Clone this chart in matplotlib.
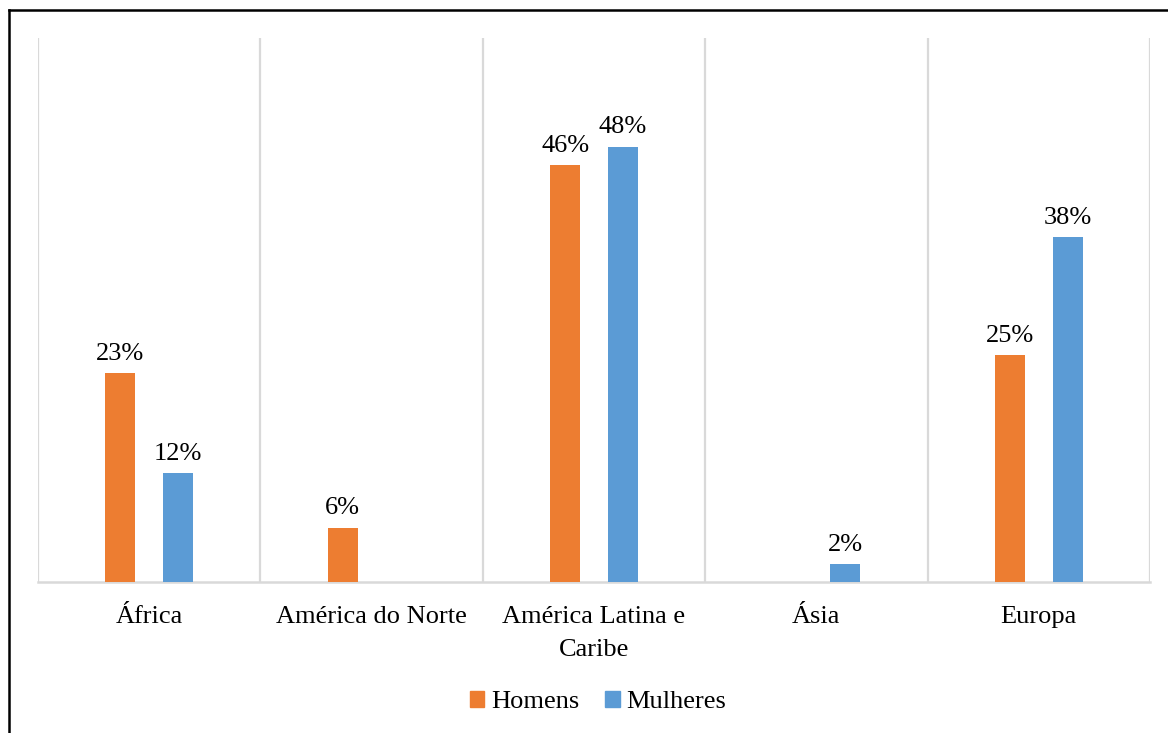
import numpy as np
import matplotlib.pyplot as plt
from matplotlib.patches import Patch
from matplotlib.lines import Line2D

plt.rcParams['font.family'] = ['Liberation Serif', 'DejaVu Serif']

regioes = ["África", "América do Norte", "América Latina e\nCaribe", "Ásia", "Europa"]
homens = [23, 6, 46, 0, 25]
mulheres = [12, 0, 48, 2, 38]

cor_homens = "#ED7D31"
cor_mulheres = "#5B9BD5"
cinza = "#d9d9d9"
fs = 19

fig = plt.figure(figsize=(11.68, 7.33), dpi=100)
ax = fig.add_axes([38 / 1168, 1 - 582 / 733, (1150 - 38) / 1168, (582 - 38) / 733])

x = np.arange(len(regioes))
largura = 0.135
desloc = 0.13

def rotular(barras, valores):
    for b, v in zip(barras, valores):
        if v <= 0:
            continue
        ax.annotate(f"{v}%", (b.get_x() + b.get_width() / 2, b.get_height()),
                    xytext=(0, 6), textcoords="offset points",
                    ha="center", va="bottom", fontsize=fs)

b1 = ax.bar(x - desloc, homens, largura, color=cor_homens, zorder=3)
b2 = ax.bar(x + desloc, mulheres, largura, color=cor_mulheres, zorder=3)
rotular(b1, homens)
rotular(b2, mulheres)

ax.set_xlim(-0.5, len(regioes) - 0.5)
ax.set_ylim(0, 60)
ax.set_yticks([])
ax.set_xticks(x)
ax.set_xticklabels(regioes, fontsize=fs, linespacing=1.65)
ax.tick_params(axis="x", length=0, pad=17)

# linhas verticais separando as categorias
for xv in np.arange(-0.5, len(regioes), 1.0):
    ax.axvline(xv, color=cinza, lw=1.6, zorder=1)

for lado in ["top", "left", "right"]:
    ax.spines[lado].set_visible(False)
ax.spines["bottom"].set_color(cinza)
ax.spines["bottom"].set_linewidth(1.8)

handles = [Patch(color=cor_homens, label="Homens"),
           Patch(color=cor_mulheres, label="Mulheres")]
fig.legend(handles=handles, loc="center", bbox_to_anchor=(598 / 1168, 1 - 702 / 733),
           ncol=2, frameon=False, fontsize=fs, handlelength=0.55, handleheight=0.55,
           handletextpad=0.25, columnspacing=1.0)

# moldura do quadro
fig.add_artist(Line2D([9 / 1168, 9 / 1168], [0, 1 - 10 / 733], color="black", lw=1.8,
                      transform=fig.transFigure))
fig.add_artist(Line2D([9 / 1168, 1], [1 - 10 / 733, 1 - 10 / 733], color="black", lw=1.8,
                      transform=fig.transFigure))

fig.savefig("out.png", dpi=100)
